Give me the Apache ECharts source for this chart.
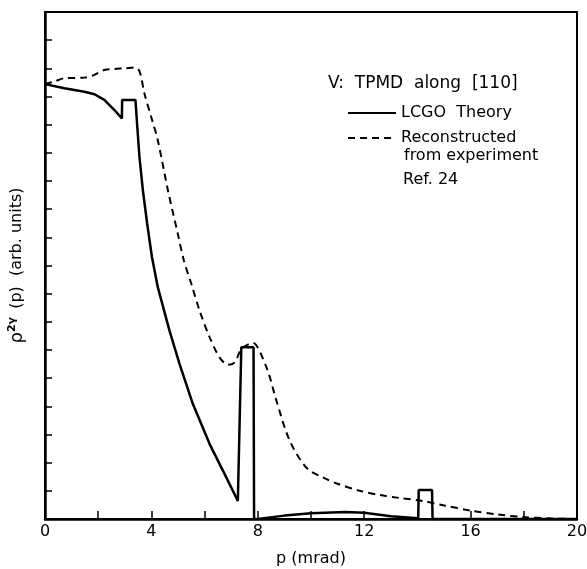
<!DOCTYPE html>
<html>
<head>
<meta charset="utf-8">
<script src="https://cdn.jsdelivr.net/npm/echarts@6/dist/echarts.min.js"></script>
<style>
  html, body {margin: 0; padding: 0; background: #fff;}
  #chart {width: 587px; height: 569px;}
</style>
</head>
<body>
<div id="chart"></div>
<script>
// LCGO theory (solid)
const theoryP = [0, 0.73, 1.48, 1.86, 2.23, 2.61, 2.89, 2.9, 3.4, 3.46, 3.55, 3.68, 3.84, 4.02, 4.24, 4.68, 5.06, 5.56, 6.19, 6.82, 7.25, 7.38, 7.84, 7.86, 8.0, 9.0, 10.0, 11.3, 12.0, 13.0, 14.03, 14.05, 14.55, 14.57, 16, 20];
const theoryRho = [15.44, 15.29, 15.17, 15.08, 14.88, 14.52, 14.22, 14.88, 14.88, 14.05, 12.86, 11.67, 10.49, 9.3, 8.23, 6.69, 5.5, 4.08, 2.66, 1.47, 0.64, 6.1, 6.1, 0, 0, 0.12, 0.2, 0.25, 0.22, 0.1, 0.03, 1.03, 1.03, 0, 0, 0];

// reconstructed from experiment (dashed)
const exptP = [0, 0.35, 0.73, 1.48, 1.86, 2.23, 2.61, 2.99, 3.36, 3.55, 3.74, 3.99, 4.24, 4.62, 4.99, 5.22, 5.5, 5.81, 6.19, 6.56, 6.88, 7.13, 7.38, 7.63, 7.81, 8.33, 8.7, 9.2, 9.84, 10.5, 11.0, 11.84, 12.6, 13.3, 14.2, 15.0, 16.0, 17.0, 18.0, 19.0, 20.0];
const exptRho = [15.44, 15.53, 15.65, 15.67, 15.77, 15.94, 15.98, 16.0, 16.03, 15.9, 15.1, 14.28, 13.45, 11.67, 10.14, 9.18, 8.35, 7.4, 6.45, 5.74, 5.48, 5.56, 6.04, 6.19, 6.26, 5.37, 4.2, 2.78, 1.81, 1.45, 1.25, 1.0, 0.85, 0.75, 0.64, 0.48, 0.3, 0.16, 0.07, 0.02, 0];

const xLabels = [0, 4, 8, 12, 16, 20];

const font = 'DejaVu Sans';
const chart = echarts.init(document.getElementById('chart'));
chart.setOption({
  animation: false,
  grid: {left: 45, right: 10, top: 12, bottom: 50, outerBoundsMode: 'none', show: true, borderColor: '#000', borderWidth: 2},
  xAxis: {
    type: 'value', min: 0, max: 20, interval: 2,
    name: 'p (mrad)', nameLocation: 'middle', nameGap: 32,
    nameTextStyle: {color: '#000', fontFamily: font, fontSize: 16},
    axisLine: {lineStyle: {color: '#000', width: 2.5}},
    axisTick: {inside: true, length: 8, lineStyle: {color: '#000', width: 1.5}},
    axisLabel: {
      color: '#000', fontFamily: font, fontSize: 16, margin: 5,
      formatter: v => xLabels.includes(v) ? String(v) : ''
    },
    splitLine: {show: false}
  },
  yAxis: {
    type: 'value', min: 0, max: 18, interval: 1,
    name: '{r|ρ}{s|2γ} (p)  (arb. units)', nameLocation: 'middle', nameGap: 18,
    nameTextStyle: {
      color: '#000', fontFamily: font, fontSize: 16,
      rich: {
        r: {fontFamily: font, fontSize: 18, color: '#000'},
        s: {fontFamily: font, fontSize: 11, fontWeight: 'bold', color: '#000', verticalAlign: 'top', padding: [0, 3, 9, 0]}
      }
    },
    axisLine: {lineStyle: {color: '#000', width: 2.5}},
    axisTick: {inside: true, length: 7, lineStyle: {color: '#000', width: 1.5}},
    axisLabel: {show: false},
    splitLine: {show: false}
  },
  legend: {
    orient: 'vertical', left: 342, top: 100,
    itemWidth: 48, itemHeight: 14, itemGap: 9,
    itemStyle: {opacity: 0},
    textStyle: {color: '#000', fontFamily: font, fontSize: 16},
    data: ['LCGO  Theory', 'Reconstructed']
  },
  graphic: [
    {type: 'text', left: 328, top: 75, style: {text: 'V:  TPMD  along  [110]', fill: '#000', font: '17px "DejaVu Sans"'}},
    {type: 'text', left: 404, top: 148, style: {text: 'from experiment', fill: '#000', font: '16px "DejaVu Sans"'}},
    {type: 'text', left: 403, top: 172, style: {text: 'Ref. 24', fill: '#000', font: '16px "DejaVu Sans"'}}
  ],
  series: [
    {
      name: 'LCGO  Theory', type: 'line', symbol: 'none',
      lineStyle: {color: '#000', width: 2.5},
      itemStyle: {color: '#000'},
      data: theoryP.map((p, i) => [p, theoryRho[i]])
    },
    {
      name: 'Reconstructed', type: 'line', symbol: 'none', smooth: 0.3,
      lineStyle: {color: '#000', width: 2, type: [7, 5]},
      itemStyle: {color: '#000'},
      data: exptP.map((p, i) => [p, exptRho[i]])
    }
  ]
});
</script>
</body>
</html>
